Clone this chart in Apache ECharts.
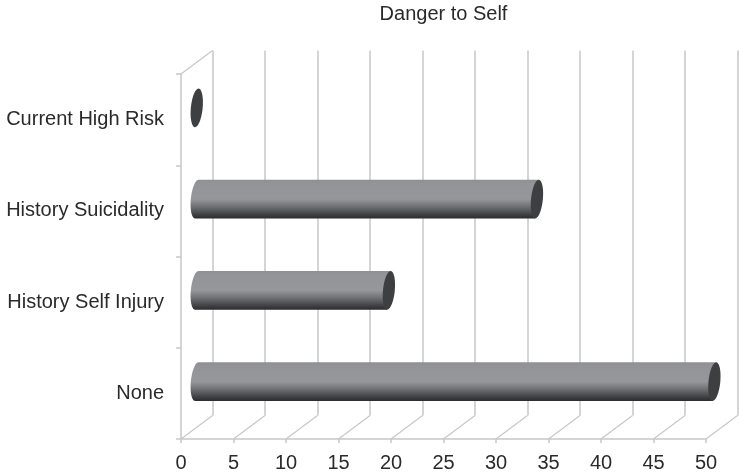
<!DOCTYPE html>
<html>
<head>
<meta charset="utf-8">
<style>html,body{margin:0;padding:0;background:#fff}#c{width:739px;height:474px}</style>
<script src="https://cdn.jsdelivr.net/npm/echarts@6/dist/echarts.min.js"></script>
</head>
<body>
<div id="c"></div>
<script>
// Danger to Self: horizontal cylinders in a box drawn in oblique projection
const categories = ['None', 'History Self Injury', 'History Suicidality', 'Current High Risk'];
const counts = [49.3, 18.3, 32.4, 0];
const ticks = [0, 5, 10, 15, 20, 25, 30, 35, 40, 45, 50];

const FONT = '"Liberation Sans", Arial, sans-serif';
const WALL = '#c6c8c8';
const INK = '#2a2a2a';
const DEPTH_X = 31.5, DEPTH_Y = 23.5;
const RX = 5.9, RY = 19.4, TILT = 0.1;

const chart = echarts.init(document.getElementById('c'), null, { renderer: 'canvas' });

// Points along the left half of a tilted end ellipse, for the cylinder's rounded start
function leftArc(cx, cy) {
  const pts = [];
  for (let a = 90; a <= 270; a += 10) {
    const t = a * Math.PI / 180;
    const ex = RX * Math.cos(t), ey = -RY * Math.sin(t);
    pts.push([cx + ex * Math.cos(TILT) - ey * Math.sin(TILT),
              cy + ex * Math.sin(TILT) + ey * Math.cos(TILT)]);
  }
  return pts;
}
// Lower and upper extremes of the far end ellipse
function rightArcEnds(cx, cy) {
  return [
    [cx - RY * Math.sin(TILT), cy + RY * Math.cos(TILT)],
    [cx + RY * Math.sin(TILT), cy - RY * Math.cos(TILT)]
  ];
}

function renderCylinder(params, api) {
  const v = api.value(0), cat = api.value(1);
  const start = api.coord([0, cat]);
  const end = api.coord([v, cat]);
  const x0 = start[0] + DEPTH_X / 2, x1 = end[0] + DEPTH_X / 2;
  const cy = start[1] - DEPTH_Y / 2;
  const cap = {
    type: 'ellipse',
    x: x1, y: cy,
    rotation: -TILT,
    shape: { cx: 0, cy: 0, rx: RX, ry: RY },
    style: { fill: '#3e3f41' }
  };
  if (v <= 0) return cap;
  const body = {
    type: 'polygon',
    shape: { points: leftArc(x0, cy).concat(rightArcEnds(x1, cy)) },
    style: {
      fill: new echarts.graphic.LinearGradient(0, 0, 0, 1, [
        { offset: 0, color: '#8f9093' },
        { offset: 0.1, color: '#939497' },
        { offset: 0.5, color: '#96979a' },
        { offset: 0.7, color: '#6e6f72' },
        { offset: 0.88, color: '#444547' },
        { offset: 1, color: '#2c2c2e' }
      ])
    }
  };
  return { type: 'group', children: [body, cap] };
}

// Floor diagonals running from the front axis to the back wall
function renderFloorLine(params, api) {
  const p = api.coord([api.value(0), 0]);
  const bottom = params.coordSys.y + params.coordSys.height;
  return {
    type: 'line',
    shape: { x1: p[0], y1: bottom, x2: p[0] + DEPTH_X, y2: bottom - DEPTH_Y },
    style: { stroke: WALL, lineWidth: 1.2 }
  };
}

// Diagonal from the top of the front axis to the top of the back wall
function renderTopEdge(params) {
  const s = params.coordSys;
  return {
    type: 'line',
    shape: { x1: s.x, y1: s.y, x2: s.x + DEPTH_X, y2: s.y - DEPTH_Y },
    style: { stroke: WALL, lineWidth: 1.2 }
  };
}

chart.setOption({
  animation: false,
  backgroundColor: '#ffffff',
  title: {
    text: 'Danger to Self',
    left: 443.5, top: 4, padding: 0, textAlign: 'center',
    textStyle: { fontFamily: FONT, fontSize: 20, fontWeight: 'normal', color: INK }
  },
  grid: [
    { left: 181, right: 33, top: 74, bottom: 35 },
    { left: 212.5, right: 1.5, top: 50.5, bottom: 58.5 }
  ],
  xAxis: [
    {
      type: 'value', gridIndex: 0, min: 0, max: 50, interval: 5,
      axisLine: { show: true, lineStyle: { color: WALL, width: 1.5 } },
      axisTick: { show: true, length: 4, lineStyle: { color: WALL, width: 1.5 } },
      splitLine: { show: false },
      axisLabel: { fontFamily: FONT, fontSize: 20, color: INK, margin: 14,
        formatter: (v) => ticks.includes(v) ? String(v) : '' }
    },
    {
      type: 'value', gridIndex: 1, min: 0, max: 50, interval: 5,
      axisLine: { show: false }, axisTick: { show: false }, axisLabel: { show: false },
      splitLine: { show: true, lineStyle: { color: WALL, width: 1.5 } }
    }
  ],
  yAxis: [
    {
      type: 'category', gridIndex: 0, data: categories,
      axisLine: { show: true, lineStyle: { color: WALL, width: 1.5 } },
      axisTick: { show: true, length: 5, lineStyle: { color: WALL, width: 1.5 } },
      axisLabel: { fontFamily: FONT, fontSize: 20, color: INK, margin: 17,
        // labels sit level with the cylinders, which stand part-way back in the box
        verticalAlign: 'middle', lineHeight: 22, padding: [0, 0, 23, 0] }
    },
    { type: 'value', gridIndex: 1, min: 0, max: 1, show: false }
  ],
  series: [
    { type: 'custom', xAxisIndex: 0, yAxisIndex: 0, z: 1, silent: true,
      coordinateSystem: 'cartesian2d', renderItem: renderFloorLine,
      data: ticks.map((t) => [t]), encode: { x: 0 } },
    { type: 'custom', xAxisIndex: 0, yAxisIndex: 0, z: 1, silent: true,
      coordinateSystem: 'cartesian2d', renderItem: renderTopEdge,
      data: [[0]], encode: { x: 0 } },
    { type: 'custom', xAxisIndex: 0, yAxisIndex: 0, z: 5, silent: true,
      coordinateSystem: 'cartesian2d', renderItem: renderCylinder,
      data: counts.map((v, i) => [v, i]), encode: { x: 0, y: 1 } }
  ]
});
</script>
</body>
</html>
